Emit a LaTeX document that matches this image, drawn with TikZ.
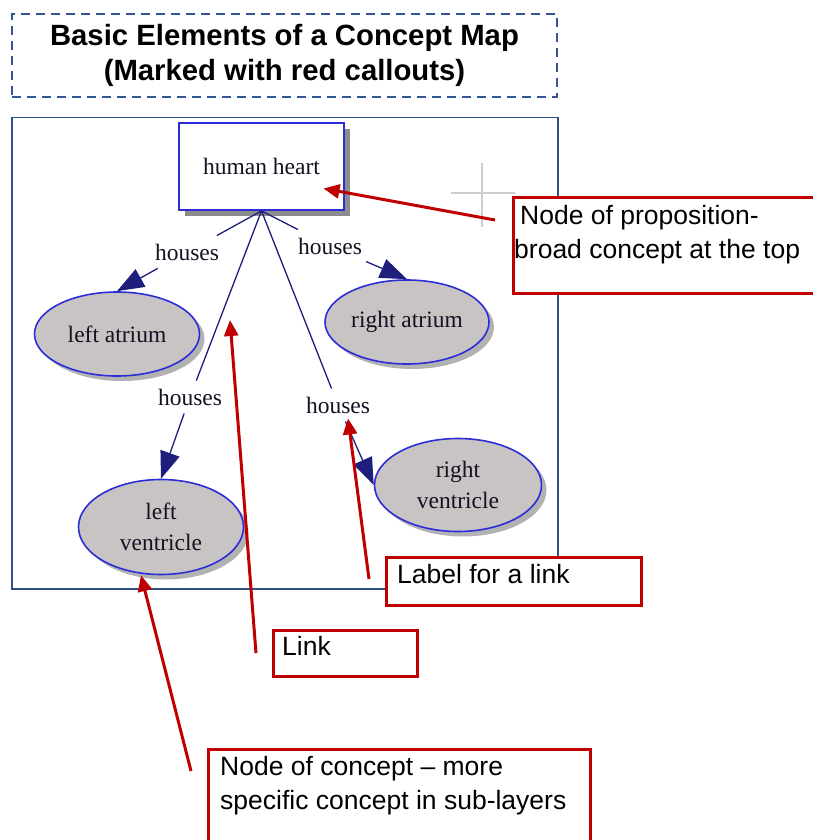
\documentclass[tikz,border=0pt]{standalone}
\usepackage{fontspec}
\setmainfont{Liberation Serif}
\setsansfont{Liberation Sans}
\usepackage{tikz}
\usetikzlibrary{shapes.geometric, arrows.meta, positioning, calc, shadows}
\definecolor{myred}{RGB}{192,0,0}
\definecolor{myblue}{RGB}{45,45,215}
\definecolor{myline}{RGB}{30,30,125}
\definecolor{myframe}{RGB}{45,80,135}
\definecolor{mydash}{RGB}{50,85,150}
\definecolor{mygray}{RGB}{200,196,196}
\definecolor{mytext}{RGB}{25,15,35}
\definecolor{mycross}{RGB}{205,205,205}
\tikzset{
  titlebox/.style={rectangle, draw=mydash, dash pattern=on 9pt off 6pt,
    line width=1.8pt, align=center,
    font=\sffamily\bfseries\fontsize{29.3}{35}\selectfont},
  mapframe/.style={rectangle, draw=myframe, line width=1.5pt, inner sep=0pt,
    anchor=north west},
  topnode/.style={rectangle, draw=myblue, fill=white, line width=1.8pt,
    font=\fontsize{23.5}{31}\selectfont, text=mytext,
    drop shadow={shadow xshift=6pt, shadow yshift=-6pt, fill=black!45, opacity=1}},
  concept/.style={ellipse, draw=myblue, fill=mygray, line width=1.6pt,
    align=center, inner sep=0pt, font=\fontsize{23.5}{31}\selectfont, text=mytext,
    drop shadow={shadow xshift=5pt, shadow yshift=-5pt, fill=black!30, opacity=1}},
  linklabel/.style={inner xsep=4pt, inner ysep=8pt,
    font=\fontsize{23.5}{31}\selectfont, text=mytext},
  linkline/.style={draw=myline, line width=1.3pt},
  linkarrow/.style={-{Triangle[length=27pt, width=20pt]}, draw=myline,
    fill=myline, line width=1.3pt},
  callbox/.style={rectangle, draw=myred, fill=white, line width=3pt,
    inner sep=0pt, anchor=north west},
  calltext/.style={inner sep=0pt, align=left,
    font=\sffamily\fontsize{26.5}{34}\selectfont},
  callarrow/.style={-{Triangle[length=16pt, width=14pt]}, draw=myred,
    fill=myred, line width=3pt},
  crossmark/.style={draw=mycross, line width=1.5pt}
}

\begin{document}
\begin{tikzpicture}[x=1pt, y=-1pt]
  \useasboundingbox (0,0) rectangle (812,840);
  % title and frame of the map
  \node[titlebox, minimum width=545pt, minimum height=83pt] (title) at (284.5,55.5)
    {Basic Elements of a Concept Map\\(Marked with red callouts)};
  \node[mapframe, minimum width=546pt, minimum height=471pt] (frame) at (11,117) {};
  % grey cross mark
  \draw[crossmark] (451,193) -- (515,193);
  \draw[crossmark] (482,163) -- (482,227);
  % concepts
  \node[topnode, minimum width=165pt, minimum height=87pt] (heart) at (261.5,166.5) {human heart};
  \node[concept, minimum width=165pt, minimum height=84pt] (la) at (117,334) {left atrium};
  \node[concept, minimum width=164pt, minimum height=84pt] (ra) at (407,322) {right atrium};
  \node[concept, minimum width=165pt, minimum height=95pt] (lv) at (161,527) {left\\ventricle};
  \node[concept, minimum width=167pt, minimum height=93pt] (rv) at (458,485) {right\\ventricle};
  % link labels
  \node[linklabel] (h1) at (187,252) {houses};
  \node[linklabel] (h2) at (330,246) {houses};
  \node[linklabel] (h3) at (190,397) {houses};
  \node[linklabel] (h4) at (338,405) {houses};
  % links
  \draw[linkline] (heart.south) -- (h1);
  \draw[linkarrow] (h1) -- (la.north);
  \draw[linkline] (heart.south) -- (h2);
  \draw[linkarrow] (h2) -- (ra.north);
  \draw[linkline] (heart.south) -- (h3);
  \draw[linkarrow] (h3) -- (lv.north);
  \draw[linkline] (heart.south) -- (h4);
  \draw[linkarrow] (h4) -- (rv.west);
  % red callouts
  \node[callbox, minimum width=330pt, minimum height=96pt] (c1) at (512,196) {};
  \node[calltext, below right=9pt and 2pt of c1.north west] (c1t)
    {\hspace*{6pt}Node of proposition-\\broad concept at the top};
  \node[callbox, minimum width=255pt, minimum height=48pt] (c2) at (385,556) {};
  \node[calltext, below right=8pt and 12pt of c2.north west] (c2t) {Label for a link};
  \node[callbox, minimum width=144pt, minimum height=46pt] (c3) at (272,629) {};
  \node[calltext, below right=7.5pt and 10pt of c3.north west] (c3t) {Link};
  \node[callbox, minimum width=382pt, minimum height=112pt] (c4) at (207,748) {};
  \node[calltext, below right=8.5pt and 13pt of c4.north west] (c4t)
    {Node of concept – more\\specific concept in sub-layers};
  \coordinate (linkpt) at (230,320);
  \draw[callarrow] ([xshift=-17pt, yshift=-24pt]c1.north west) -- ([xshift=62pt, yshift=-22pt]heart.center);
  \draw[callarrow] ([xshift=-16pt, yshift=-23pt]c2.north west) -- ([xshift=10pt, yshift=3pt]h4.south);
  \draw[callarrow] ([xshift=-16pt, yshift=-24pt]c3.north west) -- (linkpt);
  \draw[callarrow] ([xshift=-16pt, yshift=-23pt]c4.north west) -- ([xshift=-20pt]lv.south);
\end{tikzpicture}
\end{document}
